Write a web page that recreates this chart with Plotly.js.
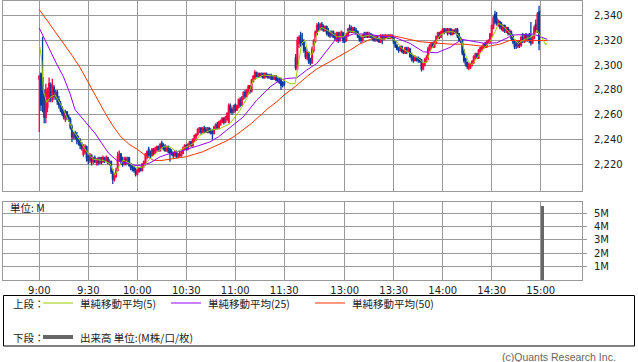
<!DOCTYPE html>
<html><head><meta charset="utf-8">
<script src="https://cdn.plot.ly/plotly-3.0.1.min.js"></script>
<style>html,body{margin:0;padding:0;background:#fff}#chart{width:638px;height:362px}</style>
</head><body><div id="chart"></div>
<script>
// ---- Morning session 1-minute bars, starting 9:00 ----
const amOpen=[2289,2293,2290,2276,2258,2266,2272,2284,2272,2282,
2275,2278,2272,2269,2265,2262,2256,2262,2258,2256,
2250,2241,2245,2243,2240,2239,2236,2228,2230,2234,
2226,2223,2227,2222,2225,2222,2224,2221,2225,2222,
2225,2223,2225,2221,2222,2214,2208,2210,2215,2226,
2228,2223,2220,2224,2221,2225,2220,2218,2217,2215,
2212,2214,2217,2215,2219,2221,2226,2232,2229,2227,
2232,2229,2232,2234,2231,2237,2235,2234,2231,2234,
2232,2230,2229,2227,2230,2226,2228,2227,2229,2232,
2235,2232,2235,2238,2235,2239,2242,2244,2246,2249,
2246,2249,2248,2246,2249,2247,2247,2245,2249,2252,
2249,2252,2254,2257,2254,2256,2254,2267,2264,2262,
2268,2264,2266,2272,2268,2273,2278,2275,2278,2283,
2279,2287,2289,2294,2291,2293,2291,2293,2290,2293,
2292,2290,2292,2290,2289,2291,2289,2288,2289,2285,
2286];
const amHigh=[2292,2294,2323,2280,2285,2282,2290,2286,2289,2284,
2280,2280,2275,2271,2267,2264,2264,2263,2260,2258,
2252,2246,2247,2246,2243,2241,2238,2236,2236,2235,
2228,2229,2228,2226,2227,2225,2226,2226,2226,2227,
2226,2227,2226,2224,2223,2216,2213,2217,2230,2231,
2229,2226,2226,2226,2226,2226,2221,2220,2219,2217,
2216,2218,2218,2221,2223,2229,2231,2234,2231,2233,
2233,2234,2235,2235,2237,2239,2237,2236,2235,2235,
2233,2232,2230,2231,2231,2229,2230,2231,2234,2236,
2236,2237,2239,2239,2241,2244,2245,2249,2250,2250,
2250,2251,2250,2250,2250,2249,2248,2251,2253,2254,
2255,2256,2258,2258,2259,2262,2269,2269,2266,2268,
2269,2268,2273,2274,2275,2279,2280,2281,2284,2284,
2289,2292,2296,2295,2294,2294,2294,2294,2294,2294,
2293,2293,2293,2292,2292,2292,2290,2290,2290,2287,
2288];
const amLow=[2246,2263,2262,2253,2253,2262,2270,2270,2270,2272,
2272,2268,2265,2262,2259,2256,2254,2256,2254,2248,
2238,2240,2240,2236,2235,2232,2231,2226,2228,2222,
2220,2221,2219,2220,2221,2219,2219,2220,2220,2221,
2221,2222,2220,2219,2212,2204,2206,2209,2214,2222,
2220,2218,2219,2219,2220,2218,2215,2214,2213,2210,
2211,2213,2214,2214,2217,2219,2224,2226,2225,2226,
2227,2228,2230,2230,2230,2232,2231,2230,2230,2229,
2222,2227,2225,2226,2225,2225,2226,2226,2228,2231,
2231,2231,2234,2234,2234,2238,2239,2243,2245,2244,
2245,2245,2245,2245,2245,2244,2240,2244,2248,2248,
2248,2251,2253,2252,2253,2255,2253,2261,2260,2261,
2262,2263,2265,2266,2267,2272,2273,2274,2276,2277,
2278,2286,2288,2290,2290,2290,2290,2289,2289,2290,
2289,2289,2288,2288,2288,2287,2286,2285,2280,2282,
2283];
const amClose=[2291,2268,2270,2258,2280,2278,2285,2274,2282,2275,
2278,2271,2268,2264,2261,2258,2262,2258,2256,2250,
2242,2245,2242,2239,2238,2235,2233,2234,2234,2225,
2223,2227,2222,2225,2222,2224,2221,2225,2222,2225,
2223,2225,2221,2222,2214,2208,2210,2215,2226,2228,
2222,2220,2224,2221,2225,2219,2217,2216,2215,2212,
2215,2217,2215,2220,2222,2228,2230,2228,2227,2232,
2229,2233,2234,2231,2236,2234,2233,2231,2234,2230,
2229,2228,2227,2230,2226,2228,2227,2230,2233,2235,
2232,2236,2238,2235,2240,2243,2244,2248,2249,2246,
2249,2247,2246,2249,2246,2245,2245,2250,2252,2249,
2254,2255,2257,2254,2258,2261,2267,2263,2262,2267,
2264,2267,2272,2268,2274,2278,2275,2280,2283,2279,
2288,2291,2294,2291,2293,2291,2293,2290,2293,2291,
2290,2292,2289,2289,2291,2288,2287,2286,2284,2284,
2285];
// ---- Afternoon session 1-minute bars, starting 12:30 ----
const pmOpen=[2306,2297,2318,2324,2320,2318,2313,2306,2310,2304,
2302,2312,2319,2325,2333,2329,2333,2331,2328,2331,
2327,2326,2324,2327,2324,2321,2326,2320,2324,2326,
2322,2320,2324,2330,2330,2327,2330,2328,2327,2324,
2322,2320,2325,2323,2326,2323,2325,2324,2322,2320,
2323,2321,2319,2324,2321,2324,2322,2324,2322,2324,
2322,2319,2316,2314,2312,2315,2312,2310,2314,2311,
2313,2308,2306,2304,2306,2306,2305,2304,2297,2300,
2303,2305,2312,2315,2318,2315,2318,2322,2326,2323,
2326,2329,2327,2329,2326,2329,2325,2328,2326,2329,
2325,2321,2320,2311,2305,2302,2298,2298,2300,2302,
2306,2309,2306,2311,2313,2314,2317,2315,2318,2319,
2324,2330,2341,2338,2332,2335,2333,2328,2332,2327,
2330,2325,2327,2323,2320,2317,2315,2319,2316,2322,
2319,2324,2320,2324,2321,2318,2322,2333,2327,2343];
const pmHigh=[2309,2323,2324,2327,2326,2321,2315,2312,2311,2306,
2315,2321,2328,2334,2335,2334,2335,2333,2332,2332,
2330,2328,2328,2328,2326,2327,2327,2327,2328,2327,
2323,2326,2330,2333,2332,2331,2331,2330,2328,2325,
2324,2325,2327,2327,2327,2327,2326,2325,2324,2324,
2324,2322,2325,2325,2325,2325,2325,2325,2325,2325,
2323,2320,2317,2315,2316,2316,2313,2315,2315,2315,
2314,2310,2308,2308,2307,2307,2306,2305,2302,2306,
2308,2315,2317,2319,2319,2320,2324,2327,2327,2328,
2330,2330,2330,2330,2330,2330,2329,2329,2330,2330,
2326,2323,2321,2313,2306,2303,2302,2302,2304,2308,
2310,2310,2313,2315,2316,2318,2319,2320,2321,2326,
2333,2340,2344,2343,2337,2336,2335,2333,2333,2331,
2331,2329,2328,2325,2321,2320,2320,2320,2324,2326,
2325,2326,2325,2326,2335,2324,2332,2337,2343,2348];
const pmLow=[2296,2296,2314,2315,2316,2310,2305,2304,2301,2300,
2301,2310,2318,2324,2327,2328,2328,2327,2327,2324,
2323,2322,2323,2322,2320,2319,2318,2319,2322,2318,
2318,2319,2323,2326,2326,2326,2326,2325,2322,2319,
2318,2319,2322,2322,2322,2322,2322,2320,2319,2319,
2319,2318,2318,2317,2320,2321,2321,2321,2321,2321,
2317,2314,2312,2310,2311,2310,2309,2309,2309,2310,
2306,2303,2302,2303,2303,2302,2302,2295,2296,2299,
2302,2304,2311,2313,2314,2314,2317,2321,2321,2322,
2325,2325,2326,2324,2325,2324,2324,2325,2325,2322,
2319,2318,2308,2302,2299,2297,2296,2297,2299,2301,
2305,2305,2305,2310,2311,2313,2314,2314,2317,2318,
2323,2329,2333,2332,2331,2329,2328,2327,2326,2326,
2324,2324,2320,2317,2313,2313,2314,2314,2315,2318,
2318,2319,2319,2318,2316,2317,2321,2326,2326,2312];
const pmClose=[2298,2320,2322,2317,2318,2312,2307,2310,2303,2302,
2313,2320,2327,2332,2329,2333,2330,2328,2331,2326,
2325,2324,2327,2323,2322,2326,2320,2326,2327,2320,
2319,2325,2329,2327,2328,2330,2327,2326,2323,2321,
2320,2324,2323,2326,2323,2325,2323,2321,2320,2323,
2320,2319,2324,2321,2324,2322,2324,2322,2324,2322,
2318,2315,2313,2312,2315,2311,2310,2314,2311,2313,
2307,2305,2304,2306,2305,2304,2303,2297,2301,2304,
2306,2313,2316,2318,2315,2319,2323,2326,2323,2327,
2329,2327,2329,2326,2329,2325,2328,2326,2329,2324,
2320,2319,2310,2304,2301,2299,2300,2301,2303,2307,
2309,2306,2312,2314,2315,2317,2315,2319,2320,2325,
2332,2338,2335,2334,2336,2331,2330,2332,2328,2330,
2326,2328,2322,2319,2315,2316,2318,2316,2322,2320,
2324,2321,2323,2320,2318,2323,2330,2328,2341,2318];

// bar slot of the 12:30 bar on the axis (lunch break slots between)
const pmSlot = 157;

// ---- Simple moving averages (bar slot, price) ----
const ma5X=[0,1.5,2.4,4.5,6.6,9.6,13.7,16.8,20.8,24.9,29,33.1,39.2,43.3,45.2,46.4,48.4,51.4,55.5,59.6,63.7,66.7,69.8,75.9,80,84.1,90.3,94.3,98.4,104.5,110.7,116.8,122.9,127,131,137.2,145.4,149.4,153.5,156.6,158.4,160.7,162.7,164.5,166.8,169.9,172.9,178,182.1,186.2,189.2,193.3,197.4,202.5,206.6,210.7,214.8,218.9,221.9,226,229,232.1,235.2,237.2,239.3,242.3,245.4,249.5,253.5,256.6,258.7,260.7,262.7,264.8,266.8,269.9,273,276,279.1,281.1,283.2,285.2,288.3,291.3,293.3,296.4,300.5,303.5,304.6,306.6,308.6,310.1,311.1];
const ma5Y=[2317.6,2304,2280,2270,2274,2276,2267,2258,2247,2239,2230,2224,2223,2220.5,2215,2211,2217,2223.5,2220.5,2217,2217.7,2223,2227,2234,2234,2230,2234,2236.7,2243.4,2247.4,2248.8,2252.9,2263.6,2273,2288,2292,2291.2,2288,2285,2285,2298.7,2317.6,2320.3,2310.8,2308.2,2325.7,2330.6,2327,2323,2323,2327.8,2327,2323,2324.4,2321.7,2321,2322.5,2319,2313.6,2310.8,2308.2,2305.5,2301.9,2302.5,2311,2318,2324.4,2327,2327,2324.4,2319,2309.5,2302.8,2300.1,2304.1,2309.5,2314.9,2319,2327,2333.8,2332.5,2329.8,2325.7,2320.3,2317.6,2320.3,2323,2324.4,2328.4,2324.4,2320.3,2316.3,2318.1];
const ma25X=[0,3.5,6.6,10.6,14.7,18.8,21.9,25.9,30,34.1,38.2,42.3,47.4,53.5,58.6,61.7,67.8,74,80,86.2,92.3,98.4,104.5,109.6,114.7,119.8,124.9,133.1,141.3,147.4,151.5,157.6,163.7,169.9,176,181.1,192.3,200.5,208.6,216.8,227,235.2,243.4,251.5,258.7,265.8,273,280.1,290.3,302.5,308.6,311];
const ma25Y=[2330,2320,2312,2301,2291,2277,2264,2258,2252,2245,2237,2229,2223,2220.5,2219,2219,2221,2226,2228.6,2230.4,2232.6,2235.3,2238,2242,2247.4,2252.9,2258.2,2271.7,2282.5,2288,2289.3,2289.8,2296,2301.4,2312.2,2320.3,2325.2,2325.2,2323.6,2323,2317.6,2310.8,2310,2314.4,2320.9,2319,2317.6,2318.1,2324.4,2325.2,2322.5,2320.9];
const ma50X=[0,5,10,15,20,25,30,35,40,45,50,55,60,65,70,75,80,85,90,95,100,105,110,115,120,125,130,135,140,145,150,157,164,170,178,184,190,196,201,208,216,223,233,242,252,260,266,274,282,288,296,304,311];
const ma50Y=[2345,2336,2327,2318,2308,2298,2286,2273,2262,2251,2242,2236,2232,2227,2223,2223,2224,2225,2226,2228,2230,2233,2236,2239,2243,2248,2253,2259,2265,2270,2276,2283,2291,2297,2303,2307,2312,2317,2320,2324,2324,2322,2319,2318,2317,2317,2316,2315,2317,2320,2320,2320,2320];

// ---- Volume (million shares) ----
const volX=[308];
const volY=[5.56];

// ---- Axis labels ----
const timeTicks=["9:00","9:30","10:00","10:30","11:00","11:30","13:00","13:30","14:00","14:30","15:00"];
const priceTicks=[2220,2240,2260,2280,2300,2320,2340];
const volTicks=[1,2,3,4,5];
const volTickText=["1M","2M","3M","4M","5M"];

function slotOf(t){
  const [h,m]=t.split(":").map(Number); const mins=h*60+m;
  if(mins<=11*60+30) return mins-540;
  return pmSlot+(mins-(12*60+30));
}
const cx=[],co=[],ch=[],cl=[],cc=[];
amOpen.forEach((v,i)=>{cx.push(i);co.push(v);ch.push(amHigh[i]);cl.push(amLow[i]);cc.push(amClose[i]);});
pmOpen.forEach((v,i)=>{cx.push(pmSlot+i);co.push(v);ch.push(pmHigh[i]);cl.push(pmLow[i]);cc.push(pmClose[i]);});

const W=638,H=362,L=3,R=56,T=1,B=82;
const PW=W-L-R, PH=H-T-B;
const px=x=>(x-L)/PW, py=y=>(H-B-y)/PH;

const traces=[
 {type:'candlestick',x:cx,open:co,high:ch,low:cl,close:cc,xaxis:'x',yaxis:'y',
  increasing:{line:{color:'#ff0040',width:1.3},fillcolor:'#ff0040'},
  decreasing:{line:{color:'#0a3c9c',width:1.3},fillcolor:'#0a3c9c'},
  whiskerwidth:0,hoverinfo:'skip'},
 {type:'scatter',mode:'lines',x:ma50X,y:ma50Y,line:{color:'#ff3300',width:1},xaxis:'x',yaxis:'y',hoverinfo:'skip'},
 {type:'scatter',mode:'lines',x:ma25X,y:ma25Y,line:{color:'#9900ff',width:1},xaxis:'x',yaxis:'y',hoverinfo:'skip'},
 {type:'scatter',mode:'lines',x:ma5X,y:ma5Y,line:{color:'#99cc00',width:1},xaxis:'x',yaxis:'y',hoverinfo:'skip'},
 {type:'bar',x:volX,y:volY,width:2,marker:{color:'#666666',line:{width:0}},xaxis:'x2',yaxis:'y2',hoverinfo:'skip'}
];

const xr=[(L-39.3)/1.6332,(W-R-39.3)/1.6332];
const tickPos=timeTicks.map(slotOf);
const grid='#999999';
const axBase={showline:true,mirror:true,linecolor:grid,linewidth:1,showgrid:true,gridcolor:grid,gridwidth:1,zeroline:false,fixedrange:true};

const cjk='"Noto Sans CJK JP", "DejaVu Sans", sans-serif';
const legFont={family:cjk,size:10.5,color:'#222'};
const annotations=[
 {text:'単位: M',x:px(8),y:py(207),xref:'paper',yref:'paper',xanchor:'left',yanchor:'middle',showarrow:false,font:legFont},
 {text:'上段：',x:px(11),y:py(303),xref:'paper',yref:'paper',xanchor:'left',yanchor:'middle',showarrow:false,font:legFont},
 {text:'単純移動平均(5)',x:px(78),y:py(303),xref:'paper',yref:'paper',xanchor:'left',yanchor:'middle',showarrow:false,font:legFont},
 {text:'単純移動平均(25)',x:px(206),y:py(303),xref:'paper',yref:'paper',xanchor:'left',yanchor:'middle',showarrow:false,font:legFont},
 {text:'単純移動平均(50)',x:px(350),y:py(303),xref:'paper',yref:'paper',xanchor:'left',yanchor:'middle',showarrow:false,font:legFont},
 {text:'下段：',x:px(11),y:py(337),xref:'paper',yref:'paper',xanchor:'left',yanchor:'middle',showarrow:false,font:legFont},
 {text:'出来高 単位:(M株/口/枚)',x:px(78),y:py(337),xref:'paper',yref:'paper',xanchor:'left',yanchor:'middle',showarrow:false,font:legFont},
 {text:'(c)Quants Research Inc.',x:px(618),y:py(357),xref:'paper',yref:'paper',xanchor:'right',yanchor:'middle',showarrow:false,font:{family:'"Liberation Sans", Arial, sans-serif',size:10.5,color:'#666'}}
];
const shapes=[
 {type:'rect',xref:'paper',yref:'paper',x0:px(3.5),x1:px(634.5),y0:py(295.5),y1:py(346),line:{color:'#000',width:1},fillcolor:'rgba(0,0,0,0)'},
 {type:'line',xref:'paper',yref:'paper',x0:px(43),x1:px(73),y0:py(303),y1:py(303),line:{color:'#99cc00',width:1}},
 {type:'line',xref:'paper',yref:'paper',x0:px(171),x1:px(201),y0:py(303),y1:py(303),line:{color:'#9900ff',width:1}},
 {type:'line',xref:'paper',yref:'paper',x0:px(315),x1:px(345),y0:py(303),y1:py(303),line:{color:'#ff3300',width:1}},
 {type:'line',xref:'paper',yref:'paper',x0:px(43),x1:px(73),y0:py(337),y1:py(337),line:{color:'#666666',width:4}}
];

const layout={
 width:W,height:H,margin:{l:L,r:R,t:T,b:B,pad:0},
 paper_bgcolor:'#fff',plot_bgcolor:'#fff',showlegend:false,
 font:{family:'"DejaVu Sans", sans-serif',size:10,color:'#222'},
 xaxis:Object.assign({},axBase,{anchor:'y',domain:[0,1],range:xr,tickvals:tickPos,showticklabels:false,ticks:'',rangeslider:{visible:false}}),
 yaxis:Object.assign({},axBase,{anchor:'x',domain:[py(190.5),1],range:[2198.7,2351.9],side:'right',tickvals:priceTicks,tickformat:',d',ticks:'',ticklabelstandoff:9}),
 xaxis2:Object.assign({},axBase,{anchor:'y2',domain:[0,1],range:xr,tickvals:tickPos,ticktext:timeTicks,ticks:'',ticklabelstandoff:1}),
 yaxis2:Object.assign({},axBase,{anchor:'x2',domain:[0,py(201.5)],range:[0,5.86],side:'right',tickvals:volTicks,ticktext:volTickText,ticks:'outside',ticklen:4,tickcolor:grid,ticklabelstandoff:5}),
 annotations:annotations,shapes:shapes,bargap:0
};
Plotly.newPlot('chart',traces,layout,{staticPlot:true,displayModeBar:false});
</script></body></html>
